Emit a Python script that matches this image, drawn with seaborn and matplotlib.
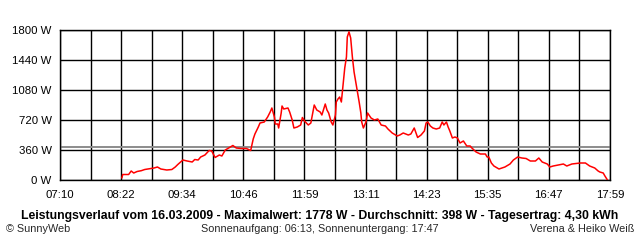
import numpy as np
import pandas as pd
import matplotlib
matplotlib.use("Agg")
import matplotlib.pyplot as plt
import seaborn as sns

# minutes after midnight
minutes = [503, 504, 511, 514, 517, 521, 526, 530, 536, 541, 545, 549, 556, 562, 566, 569,
           575, 580, 586, 589, 593, 596, 601, 606, 609, 613, 618, 621, 625, 631, 634, 638,
           644, 650, 655, 658, 660, 664, 666, 671, 675, 678, 680, 683, 684, 687, 688, 691,
           692, 694, 699, 701, 704, 706, 710, 714, 716, 719, 723, 726, 730, 733, 737, 739,
           743, 745, 747, 750, 752, 755, 756, 758, 760, 762, 764, 766, 768, 769, 771, 773,
           775, 777, 781, 783, 785, 786, 788, 791, 793, 797, 801, 805, 809, 814, 817, 822,
           828, 831, 835, 841, 844, 848, 851, 852, 856, 860, 862, 864, 867, 870, 874, 878,
           881, 883, 886, 888, 890, 893, 896, 899, 902, 906, 910, 914, 916, 921, 926, 932,
           934, 936, 939, 942, 946, 948, 955, 961, 965, 970, 975, 980, 985, 991, 995, 999,
           1005, 1008, 1012, 1018, 1024, 1028, 1034, 1044, 1050, 1055, 1061, 1065, 1067,
           1071, 1073, 1076]
watts = [24, 66, 66, 108, 84, 102, 112, 126, 136, 144, 156, 132, 120, 126, 156, 186,
         240, 228, 216, 246, 240, 276, 300, 354, 348, 270, 300, 288, 360, 396, 414, 384,
         378, 378, 354, 492, 552, 636, 684, 696, 756, 816, 864, 756, 672, 672, 624, 804,
         888, 852, 864, 816, 720, 624, 636, 660, 750, 702, 660, 684, 900, 840, 816, 780,
         912, 840, 804, 696, 660, 780, 936, 972, 996, 936, 1140, 1344, 1476, 1716, 1778, 1704,
         1476, 1296, 1056, 936, 804, 696, 624, 696, 804, 744, 720, 732, 660, 648, 612, 564,
         528, 540, 564, 540, 552, 624, 540, 510, 540, 588, 684, 696, 648, 624, 612, 624,
         696, 660, 696, 636, 588, 504, 516, 504, 444, 468, 408, 408, 384, 336, 312, 312,
         276, 276, 204, 168, 144, 132, 156, 192, 240, 276, 264, 258, 228, 228, 264, 216,
         192, 156, 168, 180, 192, 168, 192, 204, 204, 168, 144, 108, 96,
         84, 48, 0]

average_w = 398
y_ticks = [0, 360, 720, 1080, 1440, 1800]
y_labels = ["0 W", "360 W", "720 W", "1080 W", "1440 W", "1800 W"]
x_labels = ["07:10", "08:22", "09:34", "10:46", "11:59", "13:11", "14:23", "15:35", "16:47", "17:59"]
t_start, t_end = 430, 1079

title = ("Leistungsverlauf vom 16.03.2009 - Maximalwert: 1778 W - "
         "Durchschnitt: 398 W - Tagesertrag: 4,30 kWh")
footer_left = "© SunnyWeb"
footer_mid = "Sonnenaufgang: 06:13, Sonnenuntergang: 17:47"
footer_right = "Verena & Heiko Weiß"

sns.set_theme(style="white")
plt.rcParams["font.family"] = ["Liberation Sans", "DejaVu Sans"]

df = pd.DataFrame({"t": minutes, "w": watts})

fig = plt.figure(figsize=(6.4, 2.4), dpi=100)
fig.patch.set_facecolor("white")
ax = fig.add_axes([60 / 640, 1 - 180 / 240, 550 / 640, 150 / 240])
ax.set_facecolor("white")

ax.axhline(average_w, color="#8c8c8c", lw=1.4, zorder=2)
sns.lineplot(data=df, x="t", y="w", ax=ax, color="#ff0000", lw=1.1, zorder=3)

ax.set_xlim(t_start, t_end)
ax.set_ylim(0, 1800)
xt = np.linspace(t_start, t_end, 19)
ax.set_xticks(xt)
ax.set_xticklabels([x_labels[i // 2] if i % 2 == 0 else "" for i in range(19)])
ax.set_yticks(y_ticks)
ax.set_yticklabels(y_labels)
ax.grid(True, color="black", lw=1.0, zorder=1)
ax.set_axisbelow(True)
for s in ax.spines.values():
    s.set_color("black")
    s.set_linewidth(1.0)
ax.tick_params(axis="both", direction="out", length=4, width=1.0, color="black",
               labelsize=8.2, labelcolor="black", pad=2)
ax.tick_params(axis="x", pad=3)
ax.set_xlabel("")
ax.set_ylabel("")

fig.text(0.5, 1 - 216 / 240, title, ha="center", va="center", fontsize=8.85,
         fontweight="bold", color="black")
fig.text(6 / 640, 1 - 229 / 240, footer_left, ha="left", va="center", fontsize=7.8)
fig.text(320 / 640, 1 - 229 / 240, footer_mid, ha="center", va="center", fontsize=7.8)
fig.text(634 / 640, 1 - 229 / 240, footer_right, ha="right", va="center", fontsize=7.8)

fig.savefig("out.png", dpi=100, facecolor="white")
